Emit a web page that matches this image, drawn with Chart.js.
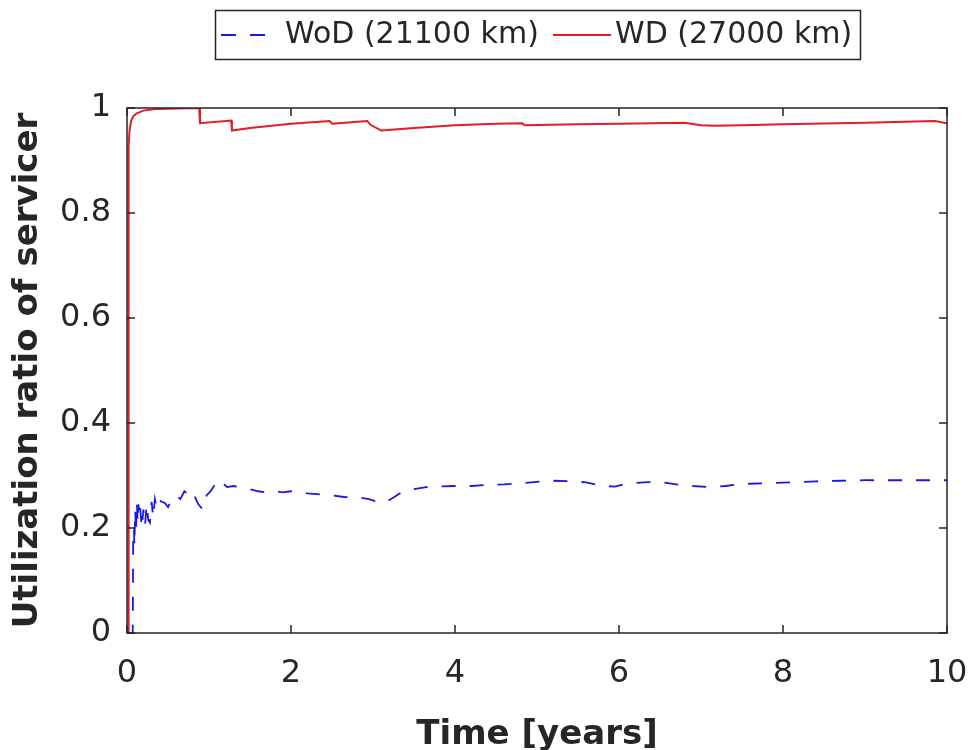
<!DOCTYPE html>
<html>
<head>
<meta charset="utf-8">
<title>Utilization ratio of servicer</title>
<script src="https://cdn.jsdelivr.net/npm/chart.js@4/dist/chart.umd.min.js"></script>
<style>
  html, body { margin: 0; padding: 0; background: #fff; }
  #wrap { width: 972px; height: 750px; }
</style>
</head>
<body>
<div id="wrap"><canvas id="myChart" width="972" height="750"></canvas></div>
<script>
// Series labels
const seriesNames = ['WoD (21100 km)', 'WD (27000 km)'];

// Without depot: time [years] and utilization ratio
const timeWoD = [0, 0.07, 0.075, 0.085, 0.09, 0.1, 0.11, 0.12, 0.13, 0.14, 0.15, 0.16, 0.18, 0.2, 0.22,
  0.24, 0.26, 0.28, 0.3, 0.32, 0.34, 0.36, 0.38, 0.42, 0.46, 0.5, 0.55, 0.6, 0.65, 0.7, 0.74, 0.78,
  0.82, 0.87, 0.92, 0.97, 1.02, 1.07, 1.12, 1.17, 1.22, 1.3, 1.4, 1.5, 1.6, 1.7, 1.8, 1.9, 2.0, 2.1,
  2.2, 2.35, 2.5, 2.6, 2.7, 2.8, 2.95, 3.05, 3.15, 3.25, 3.35, 3.5, 3.65, 3.8, 4.0, 4.2, 4.4, 4.6,
  4.8, 5.0, 5.2, 5.4, 5.6, 5.8, 5.95, 6.1, 6.3, 6.5, 6.7, 6.9, 7.1, 7.3, 7.5, 7.8, 8.1, 8.4, 8.7,
  9.0, 9.3, 9.6, 10];
const utilWoD = [0, 0, 0.17, 0.20, 0.165, 0.235, 0.19, 0.25, 0.21, 0.245, 0.225, 0.24, 0.20, 0.235, 0.205,
  0.245, 0.215, 0.21, 0.25, 0.22, 0.255, 0.24, 0.255, 0.25, 0.248, 0.24, 0.255, 0.262, 0.255, 0.27, 0.265, 0.272,
  0.262, 0.245, 0.236, 0.262, 0.27, 0.282, 0.292, 0.285, 0.278, 0.28, 0.277, 0.274, 0.27, 0.268, 0.27, 0.268, 0.27, 0.268,
  0.266, 0.264, 0.262, 0.26, 0.258, 0.259, 0.255, 0.25, 0.249, 0.258, 0.268, 0.274, 0.278, 0.279, 0.28, 0.28, 0.282, 0.283,
  0.285, 0.288, 0.29, 0.289, 0.287, 0.28, 0.279, 0.285, 0.287, 0.288, 0.283, 0.28, 0.278, 0.28, 0.284, 0.285, 0.287, 0.289, 0.29,
  0.291, 0.291, 0.291, 0.291];

// With depot: time [years] and utilization ratio
const timeWD = [0, 0.015, 0.02, 0.03, 0.05, 0.08, 0.12, 0.2, 0.35, 0.88, 0.89, 1.27, 1.28, 1.5, 2.0,
  2.47, 2.5, 2.93, 2.97, 3.1, 3.5, 4.0, 4.5, 4.82, 4.85, 5.5, 6.0, 6.8, 7.0, 7.17, 7.5, 8.0, 9.0, 9.85, 10];
const utilWD = [0, 0, 0.93, 0.955, 0.975, 0.985, 0.99, 0.995, 0.998, 1.0, 0.971, 0.976, 0.957, 0.962, 0.970,
  0.975, 0.970, 0.975, 0.968, 0.957, 0.962, 0.967, 0.970, 0.971, 0.967, 0.969, 0.970, 0.972, 0.967, 0.966, 0.967, 0.969, 0.972, 0.975, 0.971];

// Axis ticks
const xTicks = [0, 2, 4, 6, 8, 10];
const yTicks = [0, 0.2, 0.4, 0.6, 0.8, 1];

const colorWoD = 'rgb(25, 25, 225)';
const colorWD = 'rgb(228, 28, 38)';
const axisColor = '#262626';

function toPoints(xs, ys) {
  return xs.map((x, i) => ({ x: x, y: ys[i] }));
}

// box around the plot area with inward tick marks
const frameBox = {
  id: 'frameBox',
  afterDatasetsDraw(chart) {
    const { ctx, chartArea: a, scales } = chart;
    const tick = 8;
    ctx.save();
    ctx.strokeStyle = axisColor;
    ctx.lineWidth = 1.5;
    ctx.strokeRect(a.left, a.top, a.right - a.left, a.bottom - a.top);
    ctx.beginPath();
    xTicks.forEach(v => {
      const px = scales.x.getPixelForValue(v);
      ctx.moveTo(px, a.bottom); ctx.lineTo(px, a.bottom - tick);
      ctx.moveTo(px, a.top); ctx.lineTo(px, a.top + tick);
    });
    yTicks.forEach(v => {
      const py = scales.y.getPixelForValue(v);
      ctx.moveTo(a.left, py); ctx.lineTo(a.left + tick, py);
      ctx.moveTo(a.right, py); ctx.lineTo(a.right - tick, py);
    });
    ctx.stroke();
    ctx.restore();
  }
};

// boxed legend above the plot
const boxLegend = {
  id: 'boxLegend',
  afterDraw(chart) {
    const ctx = chart.ctx;
    const box = { x: 215.5, y: 10.5, w: 645, h: 49 };
    const midY = 35;
    const items = [
      { sx: 221, len: 44, tx: 285, dash: [15, 14] },
      { sx: 553, len: 58, tx: 615, dash: [] }
    ];
    ctx.save();
    ctx.fillStyle = '#fff';
    ctx.fillRect(box.x, box.y, box.w, box.h);
    ctx.strokeStyle = axisColor;
    ctx.lineWidth = 1.5;
    ctx.strokeRect(box.x, box.y, box.w, box.h);
    ctx.font = '30px "DejaVu Sans"';
    ctx.textBaseline = 'middle';
    ctx.textAlign = 'left';
    chart.data.datasets.forEach((ds, i) => {
      const it = items[i];
      ctx.strokeStyle = ds.borderColor;
      ctx.lineWidth = ds.borderWidth;
      ctx.setLineDash(it.dash);
      ctx.beginPath();
      ctx.moveTo(it.sx, midY);
      ctx.lineTo(it.sx + it.len, midY);
      ctx.stroke();
      ctx.setLineDash([]);
      ctx.fillStyle = axisColor;
      ctx.fillText(ds.label, it.tx, midY);
    });
    ctx.restore();
  }
};

const chartConfig = {
  type: 'line',
  data: {
    datasets: [
      {
        label: seriesNames[0],
        data: toPoints(timeWoD, utilWoD),
        borderColor: colorWoD,
        borderWidth: 1.8,
        borderDash: [14, 14],
        pointRadius: 0,
        tension: 0,
        fill: false
      },
      {
        label: seriesNames[1],
        data: toPoints(timeWD, utilWD),
        borderColor: colorWD,
        borderWidth: 2,
        pointRadius: 0,
        tension: 0,
        fill: false
      }
    ]
  },
  options: {
    responsive: false,
    animation: false,
    layout: { padding: { left: 0, right: 25, top: 108, bottom: 0 } },
    plugins: {
      legend: { display: false },
      tooltip: { enabled: false }
    },
    scales: {
      x: {
        type: 'linear',
        min: 0,
        max: 10,
        afterBuildTicks: s => { s.ticks = xTicks.map(v => ({ value: v })); },
        afterFit: s => { s.height = 117; s.paddingLeft = 0; s.paddingRight = 0; },
        grid: { display: false },
        border: { display: false },
        ticks: {
          padding: 13,
          color: axisColor,
          font: { family: '"DejaVu Sans"', size: 32 },
          maxRotation: 0
        },
        title: {
          display: true,
          text: 'Time [years]',
          color: axisColor,
          font: { family: '"DejaVu Sans"', size: 34, weight: 'bold', lineHeight: 0.9 },
          padding: { top: 0, bottom: 0 }
        }
      },
      y: {
        type: 'linear',
        min: 0,
        max: 1,
        afterBuildTicks: s => { s.ticks = yTicks.map(v => ({ value: v })); },
        afterFit: s => { s.width = 127; s.paddingTop = 0; s.paddingBottom = 0; },
        grid: { display: false },
        border: { display: false },
        ticks: {
          padding: 8,
          color: axisColor,
          font: { family: '"DejaVu Sans"', size: 32 },
          callback: v => String(parseFloat(v.toFixed(1)))
        },
        title: {
          display: true,
          text: 'Utilization ratio of servicer',
          color: axisColor,
          font: { family: '"DejaVu Sans"', size: 34, weight: 'bold' },
          padding: { top: 8, bottom: 0 }
        }
      }
    }
  },
  plugins: [frameBox, boxLegend]
};

const chart = new Chart(document.getElementById('myChart'), chartConfig);
</script>
</body>
</html>
